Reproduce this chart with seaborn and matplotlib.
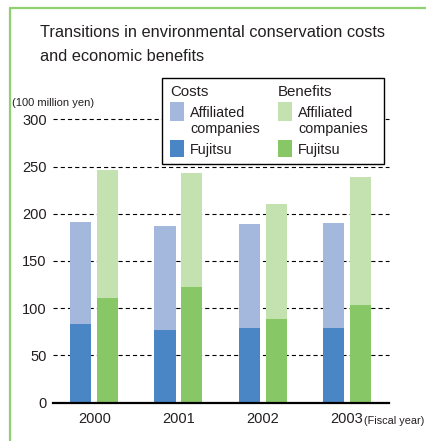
import matplotlib
matplotlib.use("Agg")
import matplotlib.pyplot as plt
from matplotlib.patches import Rectangle
from matplotlib.lines import Line2D
import seaborn as sns
import pandas as pd

# Fiscal years and values (100 million yen)
years = ["2000", "2001", "2002", "2003"]
costs_fujitsu = [83, 77, 79, 79]
costs_affiliated = [108, 110, 110, 111]
benefits_fujitsu = [111, 123, 89, 103]
benefits_affiliated = [135, 120, 121, 136]
y_ticks = [0, 50, 100, 150, 200, 250, 300]

# Colours
light_blue = "#a4b8de"
dark_blue = "#4a86c6"
light_green = "#c4e2b0"
dark_green = "#88c766"
frame_green = "#8fd06f"
text_color = "#231f20"

sns.set_theme(style="white")
plt.rcParams["font.family"] = ["Liberation Sans", "DejaVu Sans"]
plt.rcParams["lines.scale_dashes"] = False
plt.rcParams["text.color"] = text_color

rows = []
for i, y in enumerate(years):
    rows.append({"year": y, "kind": "Costs",
                 "total": costs_fujitsu[i] + costs_affiliated[i],
                 "fujitsu": costs_fujitsu[i]})
    rows.append({"year": y, "kind": "Benefits",
                 "total": benefits_fujitsu[i] + benefits_affiliated[i],
                 "fujitsu": benefits_fujitsu[i]})
df = pd.DataFrame(rows)

W, H = 427, 441
fig = plt.figure(figsize=(W / 100, H / 100), dpi=100)
ax = fig.add_axes([53 / W, 38.3 / H, 336 / W, 283.4 / H])

common = dict(data=df, x="year", hue="kind", order=years,
              hue_order=["Costs", "Benefits"], width=0.64, gap=0.22,
              dodge=True, legend=False, saturation=1, ax=ax, zorder=3,
              linewidth=0, edgecolor="none")
sns.barplot(y="total", palette=[light_blue, light_green], **common)
sns.barplot(y="fujitsu", palette=[dark_blue, dark_green], **common)

ax.set_xlim(-0.49, 3.5)
ax.set_ylim(0, 300)
ax.set_yticks(y_ticks)
ax.set_yticklabels([str(v) for v in y_ticks])
ax.set_xlabel("")
ax.set_ylabel("")
for s in ["top", "right", "left"]:
    ax.spines[s].set_visible(False)
ax.spines["bottom"].set_color("black")
ax.spines["bottom"].set_linewidth(1.6)
ax.spines["bottom"].set_zorder(5)
ax.tick_params(axis="both", length=0, labelsize=10.5, colors=text_color)
ax.tick_params(axis="y", pad=4.5)
ax.tick_params(axis="x", pad=6.5)

# dashed gridlines
for v in y_ticks[1:]:
    ax.axhline(v, color="black", lw=0.8, linestyle=(0, (3, 2.2)), zorder=1,
               clip_on=False)


def fx(px):
    return px / W


def fy(py):
    return 1 - py / H


# Title and unit labels
fig.text(fx(40), fy(37), "Transitions in environmental conservation costs",
         fontsize=11.8, ha="left", va="baseline")
fig.text(fx(40), fy(61), "and economic benefits",
         fontsize=11.8, ha="left", va="baseline")
fig.text(fx(12), fy(106), "(100 million yen)", fontsize=8, ha="left", va="baseline")
fig.text(fx(364), fy(424), "(Fiscal year)", fontsize=7.8, ha="left", va="baseline")

# Frame
fig.add_artist(Line2D([fx(10), fx(10)], [0, fy(8)], color=frame_green, lw=1.6,
                      transform=fig.transFigure))
fig.add_artist(Line2D([fx(10), 1], [fy(8), fy(8)], color=frame_green, lw=1.6,
                      transform=fig.transFigure))

# Legend box
fig.add_artist(Rectangle((fx(162), fy(164)), fx(384) - fx(162), fy(78) - fy(164),
                         transform=fig.transFigure, facecolor="white",
                         edgecolor="black", lw=1.0, zorder=10))
legend_cols = [
    (170, "Costs", light_blue, dark_blue),
    (278, "Benefits", light_green, dark_green),
]
for x0, head, c_aff, c_fuj in legend_cols:
    fig.text(fx(x0), fy(96), head, fontsize=10.8, ha="left", va="baseline", zorder=11)
    fig.add_artist(Rectangle((fx(x0), fy(121)), fx(14), fy(102) - fy(121),
                             transform=fig.transFigure, facecolor=c_aff,
                             edgecolor="none", zorder=11))
    fig.text(fx(x0 + 20), fy(117), "Affiliated", fontsize=10.4,
             ha="left", va="baseline", zorder=11)
    fig.text(fx(x0 + 20), fy(133), "companies", fontsize=10.4,
             ha="left", va="baseline", zorder=11)
    fig.add_artist(Rectangle((fx(x0), fy(157)), fx(14), fy(140) - fy(157),
                             transform=fig.transFigure, facecolor=c_fuj,
                             edgecolor="none", zorder=11))
    fig.text(fx(x0 + 20), fy(154), "Fujitsu", fontsize=10.4, ha="left",
             va="baseline", zorder=11)

fig.savefig("out.png", dpi=100)
